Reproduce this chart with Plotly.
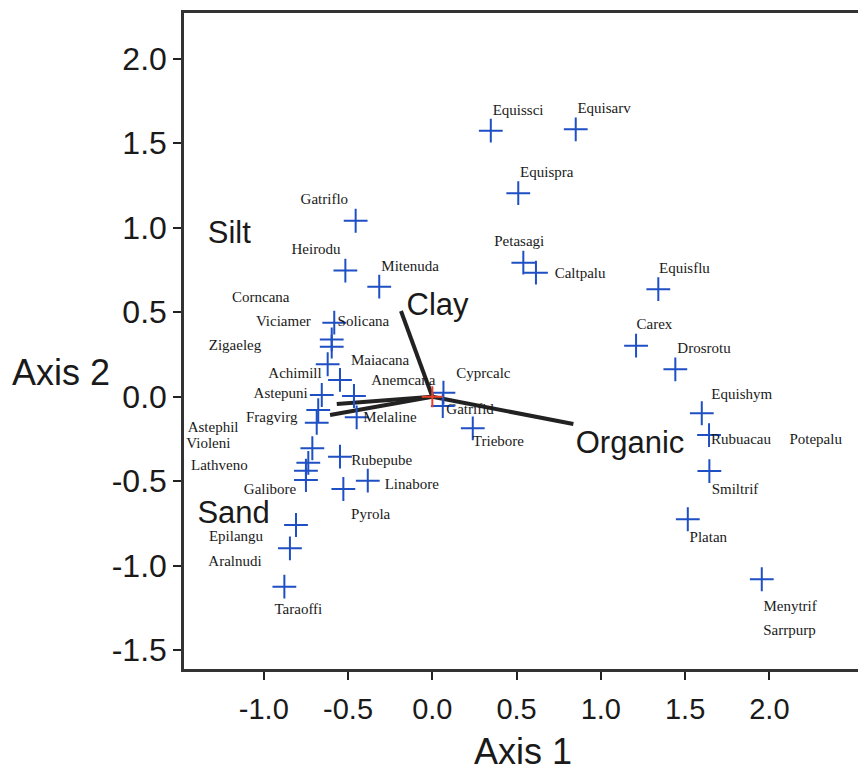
import plotly.graph_objects as go

# Species scores (Axis 1, Axis 2)
species_x = [0.347, 0.851, 0.510, 0.540, 0.615, 1.341, 1.209, 1.442, 1.599, 1.642,
             1.644, 1.516, 1.955, 0.066, 0.062, 0.240, -0.465, -0.548, -0.449, -0.455,
             -0.516, -0.315, -0.582, -0.597, -0.597, -0.621, -0.656, -0.677, -0.686, -0.712,
             -0.548, -0.736, -0.750, -0.750, -0.383, -0.528, -0.809, -0.845, -0.878]
species_y = [1.574, 1.582, 1.204, 0.793, 0.734, 0.636, 0.302, 0.162, -0.098, -0.227,
             -0.440, -0.725, -1.080, 0.024, -0.055, -0.187, 0.004, 0.099, -0.122, 1.041,
             0.746, 0.651, 0.438, 0.339, 0.296, 0.192, 0.010, -0.079, -0.154, -0.305,
             -0.355, -0.391, -0.438, -0.493, -0.497, -0.546, -0.759, -0.897, -1.124]

# Species labels and their label positions
label_names = ["Equissci", "Equisarv", "Equispra", "Petasagi", "Caltpalu", "Equisflu", "Carex",
               "Drosrotu", "Equishym", "Rubuacau", "Potepalu", "Smiltrif", "Platan", "Menytrif",
               "Sarrpurp", "Cyprcalc", "Gatrifid", "Triebore", "Anemcana", "Maiacana", "Melaline",
               "Gatriflo", "Heirodu", "Mitenuda", "Corncana", "Viciamer", "Solicana", "Zigaeleg",
               "Achimill", "Astepuni", "Fragvirg", "Astephil", "Violeni", "Rubepube", "Lathveno",
               "Linabore", "Galibore", "Pyrola", "Epilangu", "Aralnudi", "Taraoffi"]
label_x = [0.509, 1.019, 0.679, 0.516, 0.877, 1.496, 1.318,
           1.612, 1.836, 1.832, 2.275, 1.796, 1.638, 2.123,
           2.119, 0.303, 0.224, 0.392, -0.172, -0.310, -0.251,
           -0.641, -0.690, -0.132, -1.018, -0.884, -0.409, -1.171,
           -0.815, -0.900, -0.953, -1.301, -1.329, -0.300, -1.264,
           -0.122, -0.963, -0.366, -1.165, -1.171, -0.795]
label_y = [1.686, 1.701, 1.322, 0.911, 0.724, 0.754, 0.420,
           0.280, 0.006, -0.256, -0.256, -0.556, -0.838, -1.246,
           -1.385, 0.134, -0.083, -0.272, 0.089, 0.207, -0.128,
           1.160, 0.864, 0.766, 0.584, 0.438, 0.438, 0.300,
           0.134, 0.014, -0.128, -0.184, -0.280, -0.379, -0.414,
           -0.522, -0.552, -0.700, -0.834, -0.980, -1.262]

# Environmental vectors
env_names = ["Clay", "Organic", "Silt", "Sand"]
env_x = [-0.186, 0.837, -0.567, -0.607]
env_y = [0.507, -0.162, -0.043, -0.108]
env_label_x = [0.031, 1.173, -1.205, -1.179]
env_label_y = [0.531, -0.286, 0.957, -0.700]

x_ticks = [-1.0, -0.5, 0.0, 0.5, 1.0, 1.5, 2.0]
x_ticktext = ["-1.0", "-0.5", "0.0", "0.5", "1.0", "1.5", "2.0"]
y_ticks = [-1.5, -1.0, -0.5, 0.0, 0.5, 1.0, 1.5, 2.0]
y_ticktext = ["-1.5", "-1.0", "-0.5", "0.0", "0.5", "1.0", "1.5", "2.0"]

fig = go.Figure()

# vectors
for ex, ey in zip(env_x, env_y):
    fig.add_trace(go.Scatter(x=[0, ex], y=[0, ey], mode="lines",
                             line=dict(color="#222222", width=4), showlegend=False,
                             hoverinfo="skip"))

# species markers
fig.add_trace(go.Scatter(x=species_x, y=species_y, mode="markers",
                         marker=dict(symbol="cross-thin", size=17,
                                     line=dict(color="#1f4fc4", width=2)),
                         showlegend=False))

# origin
fig.add_trace(go.Scatter(x=[0], y=[0], mode="markers",
                         marker=dict(symbol="cross-thin", size=15,
                                     line=dict(color="#e8402a", width=2)),
                         showlegend=False))

# species labels
fig.add_trace(go.Scatter(x=label_x, y=label_y, text=label_names, mode="text",
                         textfont=dict(family="Liberation Serif, Times New Roman, serif",
                                       size=15, color="#1a1a1a"),
                         textposition="middle center", showlegend=False, cliponaxis=True))

# vector labels
fig.add_trace(go.Scatter(x=env_label_x, y=env_label_y, text=env_names, mode="text",
                         textfont=dict(family="Liberation Sans, Arial, sans-serif",
                                       size=31, color="#1a1a1a"),
                         textposition="middle center", showlegend=False, cliponaxis=False))

axis_font = dict(family="Liberation Sans, Arial, sans-serif", color="#1a1a1a")

fig.update_layout(
    width=858, height=772,
    margin=dict(l=184, r=0, t=13, b=103),
    paper_bgcolor="white", plot_bgcolor="white",
    xaxis=dict(range=[-1.4736, 2.526], showgrid=False, zeroline=False,
               showline=True, linecolor="#333333", linewidth=2.5, mirror=True,
               ticks="outside", ticklen=8, tickwidth=2, tickcolor="#222222",
               tickvals=x_ticks, ticktext=x_ticktext, ticklabelstandoff=4,
               tickfont=dict(size=29, **axis_font)),
    yaxis=dict(range=[-1.611, 2.270], showgrid=False, zeroline=False,
               showline=True, linecolor="#333333", linewidth=2.5, mirror=False,
               ticks="outside", ticklen=8, tickwidth=2, tickcolor="#222222",
               tickvals=y_ticks, ticktext=y_ticktext,
               tickfont=dict(size=32, **axis_font)),
    annotations=[
        dict(text="Axis 1", xref="paper", yref="paper", x=0.503, y=-0.1265,
             xanchor="center", yanchor="middle", showarrow=False,
             font=dict(size=36, **axis_font)),
        dict(text="Axis 2", xref="paper", yref="paper", x=-0.1825, y=0.4527,
             xanchor="center", yanchor="middle", showarrow=False,
             font=dict(size=36, **axis_font)),
    ],
)

fig.write_html("out.html")
